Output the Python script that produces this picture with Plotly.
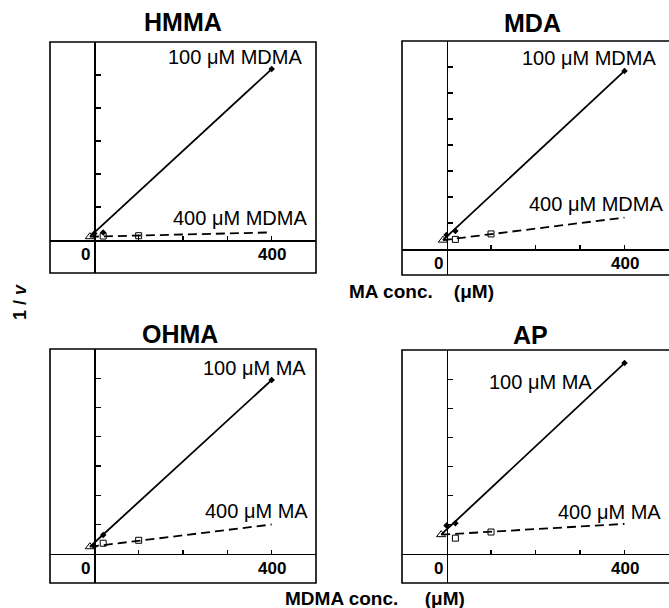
import plotly.graph_objects as go

W, H = 669, 608

# ---------------- data ----------------
titles = ["HMMA", "MDA", "OHMA", "AP"]
label_hi = ["100 μM MDMA", "100 μM MDMA", "100 μM MA", "100 μM MA"]
label_lo = ["400 μM MDMA", "400 μM MDMA", "400 μM MA", "400 μM MA"]
xlabel_top = "MA conc."
xlabel_bottom = "MDMA conc."
xlabel_unit = "(μM)"
ylabel = "1 / <i>v</i>"

# 100 uM series (solid line, filled markers)
conc_solid = [0, 20, 400]
v_solid_hmma = [0.20, 0.23, 5.18]
v_solid_mda = [0.54, 0.69, 6.85]
v_solid_ohma = [0.26, 0.64, 5.94]
v_solid_ap = [0.97, 1.05, 6.55]

# 400 uM series (dashed line, open squares)
conc_dashed = [20, 100]
v_dashed_hmma = [0.12, 0.13]
v_dashed_mda = [0.37, 0.58]
v_dashed_ohma = [0.36, 0.46]
v_dashed_ap = [0.54, 0.75]

# end of dashed fit line at 400 uM
conc_end = 400
v_dashed_end = [0.23, 1.21, 1.00, 1.03]

# intersection of the two fitted lines (x, 1/v)
x_intersect = [-10, -8, -10, -12]
y_intersect = [0.10, 0.34, 0.24, 0.66]

x_range = [-100, 500]
y_ranges = [[-1, 6], [-1, 8], [-1, 7], [-1, 7]]
y_tickvals = [[1, 2, 3, 4, 5], [1, 2, 3, 4, 5, 6, 7], [1, 2, 3, 4, 5, 6], [1, 2, 3, 4, 5, 6]]
x_tickvals = [100, 200, 300, 400]

v_solid = [v_solid_hmma, v_solid_mda, v_solid_ohma, v_solid_ap]
v_dashed = [v_dashed_hmma, v_dashed_mda, v_dashed_ohma, v_dashed_ap]

# ---------------- layout helpers ----------------
def PX(x):
    return x / W

def PY(y):
    return 1 - y / H

# panel boxes in pixels: (left, top, right, bottom)
boxes = [(50, 42, 316, 273), (402, 41, 669, 275), (50, 349, 316, 583), (402, 350, 669, 583)]

FONT = "Liberation Sans, Arial, Helvetica, sans-serif"

fig = go.Figure()
layout = dict(
    width=W, height=H, margin=dict(l=0, r=0, t=0, b=0),
    plot_bgcolor="white", paper_bgcolor="white", showlegend=False,
    font=dict(family=FONT, color="black"),
    shapes=[], annotations=[],
)

for i in range(4):
    k = "" if i == 0 else str(i + 1)
    xa, ya = "x" + k, "y" + k
    l, t, r, b = boxes[i]
    xd = [PX(l), PX(r)]
    yd = [PY(b), PY(t)]
    yr = y_ranges[i]
    y0pos = yd[0] + (0 - yr[0]) / (yr[1] - yr[0]) * (yd[1] - yd[0])
    x0pos = xd[0] + (0 - x_range[0]) / (x_range[1] - x_range[0]) * (xd[1] - xd[0])

    layout["xaxis" + k] = dict(
        domain=xd, range=x_range, anchor="free", position=y0pos,
        showline=True, linecolor="black", linewidth=1.6,
        ticks="inside", tickvals=x_tickvals, ticklen=4, tickwidth=1.2, tickcolor="black",
        showticklabels=False, showgrid=False, zeroline=False, fixedrange=True,
    )
    layout["yaxis" + k] = dict(
        domain=yd, range=yr, anchor="free", position=x0pos,
        showline=True, linecolor="black", linewidth=1.6,
        ticks="inside", tickvals=y_tickvals[i], ticklen=5, tickwidth=1.2, tickcolor="black",
        showticklabels=False, showgrid=False, zeroline=False, fixedrange=True,
    )

    # frame
    layout["shapes"].append(dict(
        type="rect", xref=xa + " domain", yref=ya + " domain",
        x0=0, x1=1.02 if r >= W else 1, y0=0, y1=1,
        line=dict(color="black", width=1.6), layer="above",
    ))

    # solid fit line (100 uM)
    fig.add_trace(go.Scatter(
        x=[x_intersect[i], conc_solid[-1]], y=[y_intersect[i], v_solid[i][-1]],
        mode="lines", line=dict(color="black", width=1.8),
        xaxis=xa, yaxis=ya, hoverinfo="skip",
    ))
    # dashed fit line (400 uM)
    fig.add_trace(go.Scatter(
        x=[x_intersect[i], conc_end], y=[y_intersect[i], v_dashed_end[i]],
        mode="lines", line=dict(color="black", width=1.8, dash="9px,5px"),
        xaxis=xa, yaxis=ya, hoverinfo="skip",
    ))
    # data markers
    fig.add_trace(go.Scatter(
        x=conc_solid, y=v_solid[i], mode="markers",
        marker=dict(symbol="diamond", size=5, color="black"),
        xaxis=xa, yaxis=ya,
    ))
    fig.add_trace(go.Scatter(
        x=conc_dashed, y=v_dashed[i], mode="markers",
        marker=dict(symbol="square-open", size=6, color="black", line=dict(width=1)),
        xaxis=xa, yaxis=ya,
    ))
    fig.add_trace(go.Scatter(
        x=[x_intersect[i]], y=[y_intersect[i]], mode="markers",
        marker=dict(symbol="triangle-up-open", size=8, color="black", line=dict(width=1)),
        xaxis=xa, yaxis=ya,
    ))

    # tick labels 0 and 400 below the x line
    layout["annotations"].append(dict(
        x=0, y=0, xref=xa, yref=ya, text="<b>0</b>", showarrow=False,
        xanchor="right", yanchor="top", xshift=-2, yshift=-3,
        font=dict(size=17, family=FONT),
    ))
    layout["annotations"].append(dict(
        x=400, y=0, xref=xa, yref=ya, text="<b>400</b>", showarrow=False,
        xanchor="center", yanchor="top", yshift=-3,
        font=dict(size=17, family=FONT),
    ))

# panel titles
title_pos = [(183, 22), (532, 23), (180, 334), (530, 335)]
for i, (x, y) in enumerate(title_pos):
    layout["annotations"].append(dict(
        x=PX(x), y=PY(y), xref="paper", yref="paper", text="<b>%s</b>" % titles[i],
        showarrow=False, xanchor="center", yanchor="middle",
        font=dict(size=25, family=FONT),
    ))

# curve labels (pixel anchor, xanchor)
hi_pos = [(304, 57, "right"), (658, 58, "right"), (308, 368, "right"), (487, 382, "left")]
lo_pos = [(309, 218, "right"), (665, 204, "right"), (310, 511, "right"), (663, 512, "right")]
for i in range(4):
    for txt, (x, y, anc) in ((label_hi[i], hi_pos[i]), (label_lo[i], lo_pos[i])):
        layout["annotations"].append(dict(
            x=PX(x), y=PY(y), xref="paper", yref="paper", text=txt,
            showarrow=False, xanchor=anc, yanchor="middle",
            font=dict(size=20, family=FONT),
        ))

# shared axis labels
layout["annotations"].append(dict(
    x=PX(347), y=PY(291), xref="paper", yref="paper",
    text="<b>%s%s%s</b>" % (xlabel_top, "\u00a0" * 4, xlabel_unit),
    showarrow=False, xanchor="left", yanchor="middle", font=dict(size=19, family=FONT),
))
layout["annotations"].append(dict(
    x=PX(283), y=PY(598), xref="paper", yref="paper",
    text="<b>%s%s%s</b>" % (xlabel_bottom, "\u00a0" * 5, xlabel_unit),
    showarrow=False, xanchor="left", yanchor="middle", font=dict(size=19, family=FONT),
))
layout["annotations"].append(dict(
    x=PX(20), y=PY(302), xref="paper", yref="paper", text="<b>%s</b>" % ylabel,
    showarrow=False, xanchor="center", yanchor="middle", textangle=-90,
    font=dict(size=18, family=FONT),
))

fig.update_layout(**layout)
fig.write_html(
    "out.html",
    config={"displayModeBar": False, "staticPlot": True},
    post_script="document.body.style.margin='0';document.body.style.overflow='hidden';",
)
